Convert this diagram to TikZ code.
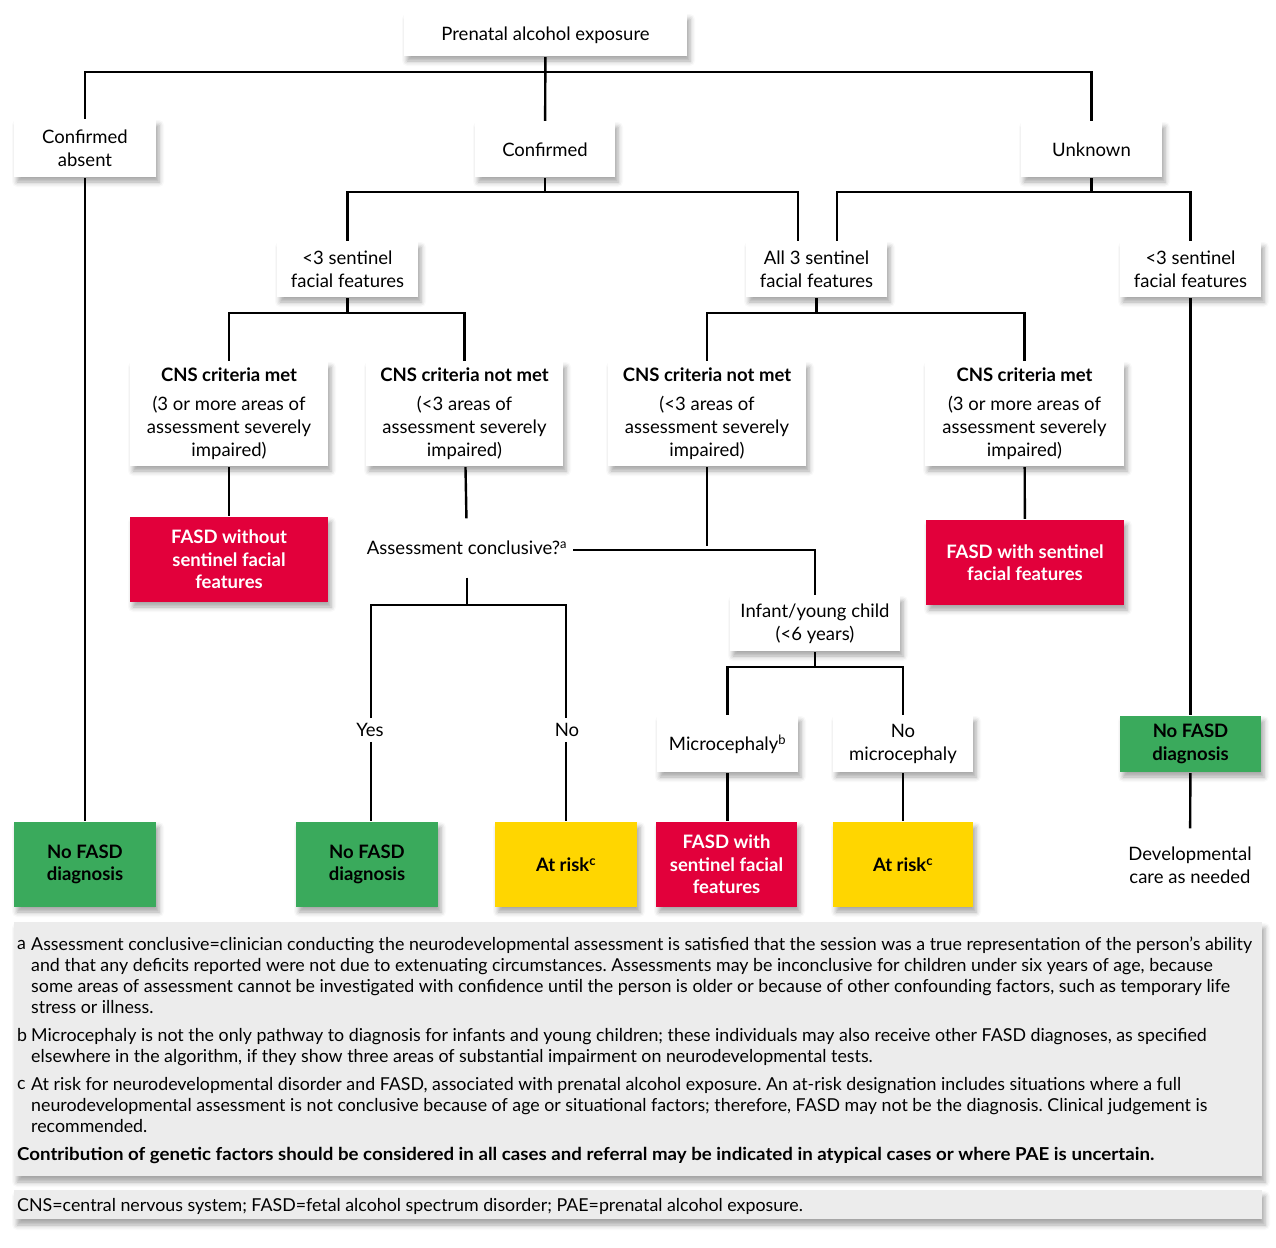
\documentclass[tikz,border=0pt]{standalone}
\usepackage{fontspec}
\setmainfont{Lato}
\newfontfamily\notefont{Lato}
\newfontfamily\genefont[FakeStretch=1.05]{Lato}
\usetikzlibrary{shadows.blur}
\definecolor{fasdred}{RGB}{226, 0, 59}
\definecolor{fasdgreen}{RGB}{58, 170, 92}
\definecolor{fasdyellow}{RGB}{255, 214, 0}
\definecolor{notegray}{RGB}{236, 236, 236}
\frenchspacing

\begin{document}
\begin{tikzpicture}[x=1pt, y=-1pt, line width=2.4pt,
  box/.style={inner sep=0pt, align=center, minimum width=141pt, minimum height=55pt,
    font=\fontsize{18.5}{23}\selectfont,
    blur shadow={shadow xshift=3pt, shadow yshift=-5pt, shadow blur radius=5pt, shadow opacity=35}},
  whitebox/.style={box, fill=white},
  cnsbox/.style={whitebox, minimum width=198pt, minimum height=104pt},
  redbox/.style={box, fill=fasdred, text=white, minimum height=85pt, font=\fontsize{18.5}{22.5}\selectfont\bfseries},
  greenbox/.style={box, fill=fasdgreen, minimum height=85pt, font=\fontsize{18.5}{22.5}\selectfont\bfseries},
  yellowbox/.style={box, fill=fasdyellow, minimum height=85pt, font=\fontsize{18.5}{22.5}\selectfont\bfseries},
  label/.style={inner sep=4pt, font=\fontsize{18.5}{23}\selectfont, align=center},
  notebox/.style={fill=notegray, inner sep=0pt,
    blur shadow={shadow xshift=3pt, shadow yshift=-6pt, shadow blur radius=5pt, shadow opacity=35}},
  notetext/.style={inner sep=0pt, anchor=north west, align=left, font=\notefont\fontsize{17.8}{21}\selectfont}]
  \useasboundingbox (0, 0) rectangle (1276, 1247);

  % top of the tree
  \node[whitebox, minimum width=283pt, minimum height=42pt] (pae) at (545.5, 35) {Prenatal alcohol exposure};
  \node[whitebox, minimum width=142pt, minimum height=57pt] (absent) at (85, 148.5) {Confirmed\\absent};
  \node[whitebox, minimum width=140pt] (confirmed) at (545, 149.5) {Confirmed};
  \node[whitebox] (unknown) at (1091.5, 149.5) {Unknown};

  \node[whitebox] (fewL) at (347.5, 269.5) {<3 sentinel\\facial features};
  \node[whitebox] (allthree) at (816.5, 269.5) {All 3 sentinel\\facial features};
  \node[whitebox] (fewR) at (1190.5, 269.5) {<3 sentinel\\facial features};

  \node[cnsbox] (cnsmetL) at (229, 414) {\textbf{CNS criteria met}\\[6pt](3 or more areas of\\assessment severely\\impaired)};
  \node[cnsbox, minimum width=197pt] (cnsnotL) at (464.5, 414) {\textbf{CNS criteria not met}\\[6pt](<3 areas of\\assessment severely\\impaired)};
  \node[cnsbox] (cnsnotM) at (707, 414) {\textbf{CNS criteria not met}\\[6pt](<3 areas of\\assessment severely\\impaired)};
  \node[cnsbox, minimum width=199pt] (cnsmetR) at (1024.5, 414) {\textbf{CNS criteria met}\\[6pt](3 or more areas of\\assessment severely\\impaired)};

  \node[redbox, minimum width=198pt] (fasdL) at (229, 559.5) {FASD without\\sentinel facial\\features};
  \node[redbox, minimum width=198pt] (fasdR) at (1025, 562.5) {FASD with sentinel\\facial features};

  \node[label, inner ysep=0pt, inner xsep=5pt, minimum height=57pt] (concl) at (467, 548) {Assessment conclusive?\textsuperscript{a}};
  \node[whitebox, minimum width=170pt] (infant) at (815, 623.5) {Infant/young child\\(<6 years)};
  \node[whitebox, minimum height=56pt] (micro) at (727.5, 744) {Microcephaly\textsuperscript{b}};
  \node[whitebox, minimum width=140pt, minimum height=56pt] (nomicro) at (903, 744) {No\\microcephaly};
  \node[greenbox, minimum height=56pt] (nofasdR) at (1190.5, 744) {No FASD\\diagnosis};

  \node[label] (yes) at (370, 730) {Yes};
  \node[label] (no) at (567, 730) {No};

  % bottom row
  \node[greenbox, minimum width=142pt] (nofasdA) at (85, 864.5) {No FASD\\diagnosis};
  \node[greenbox, minimum width=142pt] (nofasdB) at (367, 864.5) {No FASD\\diagnosis};
  \node[yellowbox, minimum width=142pt] (atriskA) at (566, 864.5) {At risk\textsuperscript{c}};
  \node[redbox] (fasdM) at (726.5, 864.5) {FASD with\\sentinel facial\\features};
  \node[yellowbox, minimum width=140pt] (atriskB) at (903, 864.5) {At risk\textsuperscript{c}};
  \node[label, inner ysep=17pt] (devcare) at (1190, 865) {Developmental\\care as needed};

  % connectors
  \draw (pae) -- (confirmed);
  \draw (absent.north) |- (pae.south |- 0, 72) -| (unknown.north);
  \draw (absent) -- (nofasdA);
  \draw (confirmed.south) -- (confirmed.south |- 0, 192);
  \draw (fewL.north) |- ([xshift=-18.5pt]allthree.north |- 0, 192) -- ([xshift=-18.5pt]allthree.north);
  \draw (unknown.south) -- (unknown.south |- 0, 192);
  \draw ([xshift=20.5pt]allthree.north) |- (fewR.north |- 0, 192) -- (fewR.north);
  \draw (fewR) -- (nofasdR);
  \draw (nofasdR) -- (devcare);

  \draw (fewL.south) -- (fewL.south |- 0, 313);
  \draw (cnsmetL.north) |- (cnsnotL.north |- 0, 313) -- (cnsnotL.north);
  \draw (allthree.south) -- (allthree.south |- 0, 313);
  \draw (cnsnotM.north) |- (cnsmetR.north |- 0, 313) -- (cnsmetR.north);

  \draw (cnsmetL) -- (fasdL);
  \draw (cnsmetR) -- (fasdR);
  \draw (cnsnotL) -- (concl);
  \draw (concl.south) -- (concl.south |- 0, 605);
  \draw ([xshift=1pt]yes.north) |- (concl.south |- 0, 605) -| ([xshift=-1pt]no.north);
  \draw ([xshift=1pt]yes.south) -- ([xshift=1pt]yes.south |- nofasdB.north);
  \draw ([xshift=-1pt]no.south) -- ([xshift=-1pt]no.south |- atriskA.north);

  \draw (cnsnotM.south) -- (cnsnotM.south |- 0, 546);
  \draw ([yshift=-2pt]concl.east) -| (infant.north);
  \draw (infant.south) -- (infant.south |- 0, 667);
  \draw (micro.north) |- (nomicro.north |- 0, 667) -- (nomicro.north);
  \draw (micro) -- (micro |- fasdM.north);
  \draw (nomicro) -- (atriskB);

  % footnotes
  \node[notebox, minimum width=1248pt, minimum height=254pt] (notes) at (638, 1049) {};
  \node[notebox, minimum width=1248pt, minimum height=29pt] (abbrev) at (638, 1204.5) {};
  \node[notetext] (labelA) at (16, 936) {\vphantom{A}a};
  \node[notetext] (noteA) at (30, 936) {Assessment conclusive=clinician conducting the neurodevelopmental assessment is satisfied that the session was a true representation of the person’s ability\\
    and that any deficits reported were not due to extenuating circumstances. Assessments may be inconclusive for children under six years of age, because\\
    some areas of assessment cannot be investigated with confidence until the person is older or because of other confounding factors, such as temporary life\\
    stress or illness.};
  \node[notetext] (labelB) at (16, 1027) {\vphantom{A}b};
  \node[notetext] (noteB) at (30, 1027) {Microcephaly is not the only pathway to diagnosis for infants and young children; these individuals may also receive other FASD diagnoses, as specified\\
    elsewhere in the algorithm, if they show three areas of substantial impairment on neurodevelopmental tests.};
  \node[notetext] (labelC) at (16, 1076) {\vphantom{A}c};
  \node[notetext] (noteC) at (30, 1076) {At risk for neurodevelopmental disorder and FASD, associated with prenatal alcohol exposure. An at-risk designation includes situations where a full\\
    neurodevelopmental assessment is not conclusive because of age or situational factors; therefore, FASD may not be the diagnosis. Clinical judgement is\\
    recommended.};
  \node[notetext, font=\genefont\fontsize{17.8}{21}\selectfont\bfseries] (genetic) at (16, 1146) {Contribution of genetic factors should be considered in all cases and referral may be indicated in atypical cases or where PAE is uncertain.};
  \node[notetext] (abbrevtext) at (16, 1197) {CNS=central nervous system; FASD=fetal alcohol spectrum disorder; PAE=prenatal alcohol exposure.};
\end{tikzpicture}
\end{document}
